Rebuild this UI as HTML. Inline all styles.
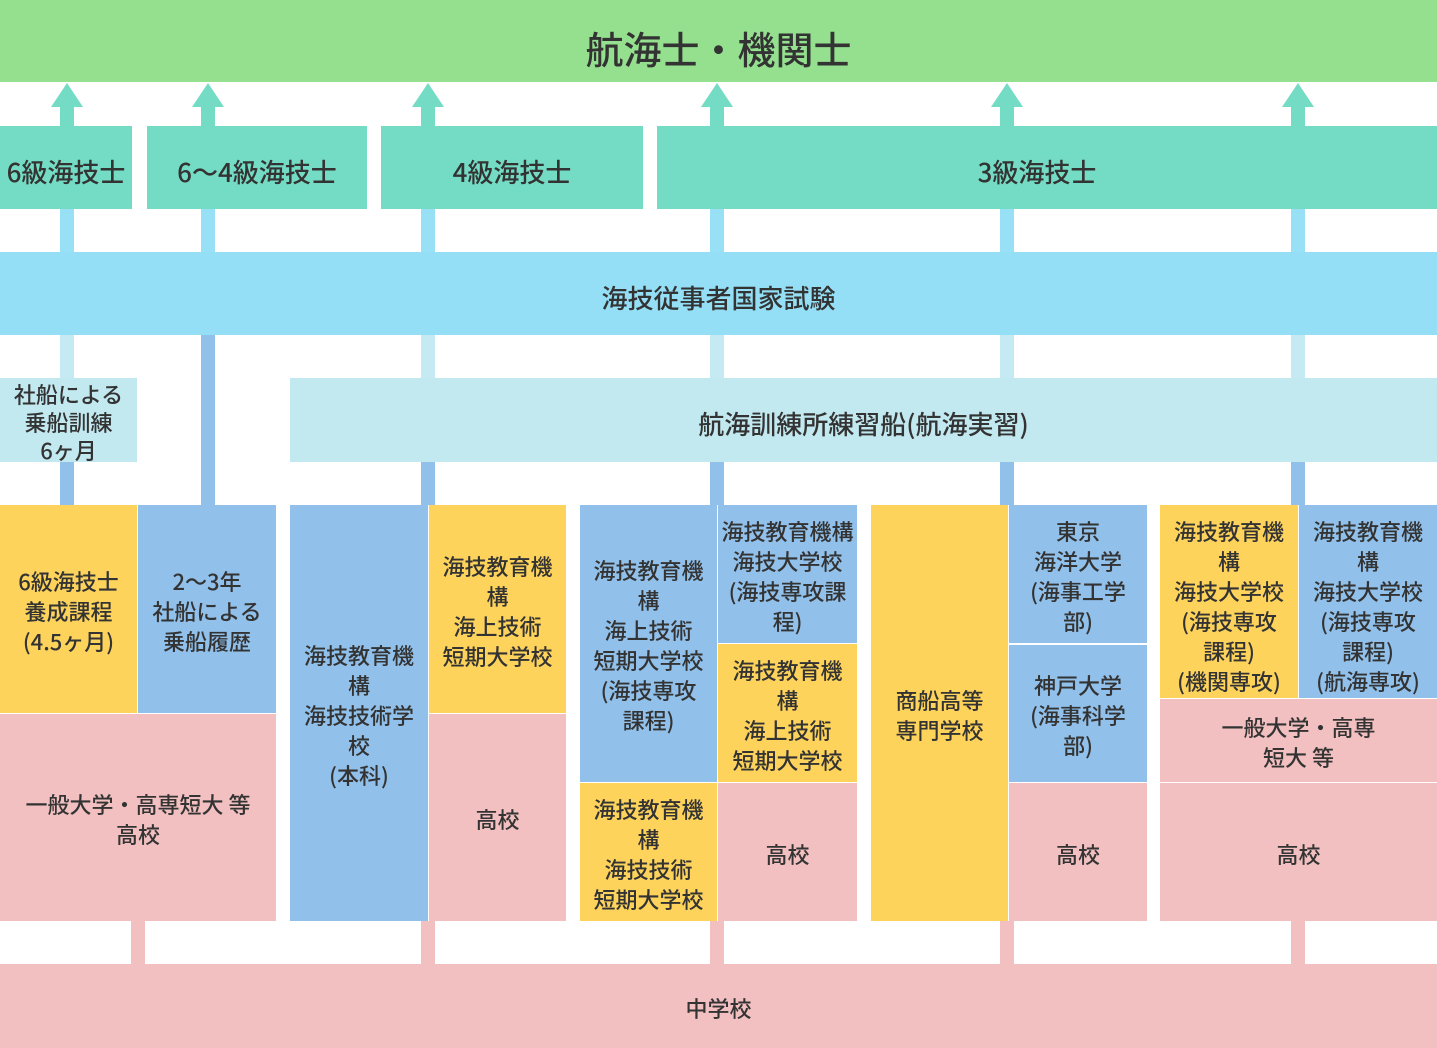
<!DOCTYPE html>
<html><head><meta charset="utf-8"><style>
*{margin:0;padding:0;box-sizing:border-box}
body{width:1437px;height:1048px;position:relative;background:#fff;overflow:hidden;font-family:"Noto Sans CJK JP","Liberation Sans",sans-serif;color:#333;font-weight:500}
.b{position:absolute;display:flex;align-items:center;justify-content:center;text-align:center;font-size:22px;line-height:30px;padding-top:3px}
.y{background:#fdd35c}.bl{background:#91c0ea}.p{background:#f2c0c0}
.c{position:absolute;width:14px}
.t{background:#74dcc4}
.tri{position:absolute;width:0;height:0;border-left:16px solid transparent;border-right:16px solid transparent;border-bottom:24px solid #74dcc4;top:83px}
.big{font-size:26px;padding-top:8px}
</style></head><body>
<div class="b" style="left:0;top:0;width:1437px;height:82px;background:#94e08f;font-size:38px;font-weight:500;padding-top:14px">航海士・機関士</div>

<div class="tri" style="left:51px"></div><div class="c t" style="left:60px;top:106px;height:20px"></div>
<div class="tri" style="left:192px"></div><div class="c t" style="left:201px;top:106px;height:20px"></div>
<div class="tri" style="left:412px"></div><div class="c t" style="left:421px;top:106px;height:20px"></div>
<div class="tri" style="left:701px"></div><div class="c t" style="left:710px;top:106px;height:20px"></div>
<div class="tri" style="left:991px"></div><div class="c t" style="left:1000px;top:106px;height:20px"></div>
<div class="tri" style="left:1282px"></div><div class="c t" style="left:1291px;top:106px;height:20px"></div>

<div class="b t big" style="left:0;top:126px;width:132px;height:83px">6級海技士</div>
<div class="b t big" style="left:147px;top:126px;width:220px;height:83px">6〜4級海技士</div>
<div class="b t big" style="left:381px;top:126px;width:262px;height:83px">4級海技士</div>
<div class="b t big" style="left:657px;top:126px;width:760px;height:83px">3級海技士</div>
<div class="c t" style="left:1400px;top:126px;width:37px;height:83px"></div>

<div class="c" style="left:60px;top:209px;height:43px;background:#97e0f5"></div>
<div class="c" style="left:201px;top:209px;height:43px;background:#97e0f5"></div>
<div class="c" style="left:421px;top:209px;height:43px;background:#97e0f5"></div>
<div class="c" style="left:710px;top:209px;height:43px;background:#97e0f5"></div>
<div class="c" style="left:1000px;top:209px;height:43px;background:#97e0f5"></div>
<div class="c" style="left:1291px;top:209px;height:43px;background:#97e0f5"></div>

<div class="b big" style="left:0;top:252px;width:1437px;height:83px;background:#94dff5">海技従事者国家試験</div>

<div class="c" style="left:60px;top:335px;height:43px;background:#c5eaf3"></div>
<div class="c bl" style="left:201px;top:335px;height:170px"></div>
<div class="c" style="left:421px;top:335px;height:43px;background:#c5eaf3"></div>
<div class="c" style="left:710px;top:335px;height:43px;background:#c5eaf3"></div>
<div class="c" style="left:1000px;top:335px;height:43px;background:#c5eaf3"></div>
<div class="c" style="left:1291px;top:335px;height:43px;background:#c5eaf3"></div>

<div class="b" style="left:0;top:378px;width:137px;height:84px;background:#c2e8f0;line-height:28px">社船による<br>乗船訓練<br>6ヶ月</div>
<div class="b big" style="left:290px;top:378px;width:1147px;height:84px;background:#c2e8f0">航海訓練所練習船(航海実習)</div>

<div class="c bl" style="left:60px;top:462px;height:43px"></div>
<div class="c bl" style="left:421px;top:462px;height:43px"></div>
<div class="c bl" style="left:710px;top:462px;height:43px"></div>
<div class="c bl" style="left:1000px;top:462px;height:43px"></div>
<div class="c bl" style="left:1291px;top:462px;height:43px"></div>

<div class="b y" style="left:0;top:505px;width:137px;height:208px">6級海技士<br>養成課程<br>(4.5ヶ月)</div>
<div class="b bl" style="left:138px;top:505px;width:138px;height:208px">2〜3年<br>社船による<br>乗船履歴</div>
<div class="b p" style="left:0;top:714px;width:276px;height:207px">一般大学・高専短大 等<br>高校</div>

<div class="b bl" style="left:290px;top:505px;width:138px;height:416px">海技教育機<br>構<br>海技技術学<br>校<br>(本科)</div>
<div class="b y" style="left:429px;top:505px;width:137px;height:208px">海技教育機<br>構<br>海上技術<br>短期大学校</div>
<div class="b p" style="left:429px;top:714px;width:137px;height:207px">高校</div>

<div class="b bl" style="left:580px;top:505px;width:137px;height:277px">海技教育機<br>構<br>海上技術<br>短期大学校<br>(海技専攻<br>課程)</div>
<div class="b y" style="left:580px;top:783px;width:137px;height:138px">海技教育機<br>構<br>海技技術<br>短期大学校</div>
<div class="b bl" style="left:718px;top:505px;width:139px;height:138px">海技教育機構<br>海技大学校<br>(海技専攻課<br>程)</div>
<div class="b y" style="left:718px;top:644px;width:139px;height:138px">海技教育機<br>構<br>海上技術<br>短期大学校</div>
<div class="b p" style="left:718px;top:783px;width:139px;height:138px">高校</div>

<div class="b y" style="left:871px;top:505px;width:137px;height:416px">商船高等<br>専門学校</div>
<div class="b bl" style="left:1009px;top:505px;width:138px;height:138px">東京<br>海洋大学<br>(海事工学<br>部)</div>
<div class="b bl" style="left:1009px;top:645px;width:138px;height:137px">神戸大学<br>(海事科学<br>部)</div>
<div class="b p" style="left:1009px;top:783px;width:138px;height:138px">高校</div>

<div class="b y" style="left:1160px;top:505px;width:138px;height:193px;padding-top:8px">海技教育機<br>構<br>海技大学校<br>(海技専攻<br>課程)<br>(機関専攻)</div>
<div class="b bl" style="left:1299px;top:505px;width:138px;height:193px;padding-top:8px">海技教育機<br>構<br>海技大学校<br>(海技専攻<br>課程)<br>(航海専攻)</div>
<div class="b p" style="left:1160px;top:699px;width:277px;height:83px">一般大学・高専<br>短大 等</div>
<div class="b p" style="left:1160px;top:783px;width:277px;height:138px">高校</div>

<div class="c p" style="left:131px;top:921px;height:43px"></div>
<div class="c p" style="left:421px;top:921px;height:43px"></div>
<div class="c p" style="left:710px;top:921px;height:43px"></div>
<div class="c p" style="left:1000px;top:921px;height:43px"></div>
<div class="c p" style="left:1291px;top:921px;height:43px"></div>

<div class="b p" style="left:0;top:964px;width:1437px;height:84px">中学校</div>
</body></html>
